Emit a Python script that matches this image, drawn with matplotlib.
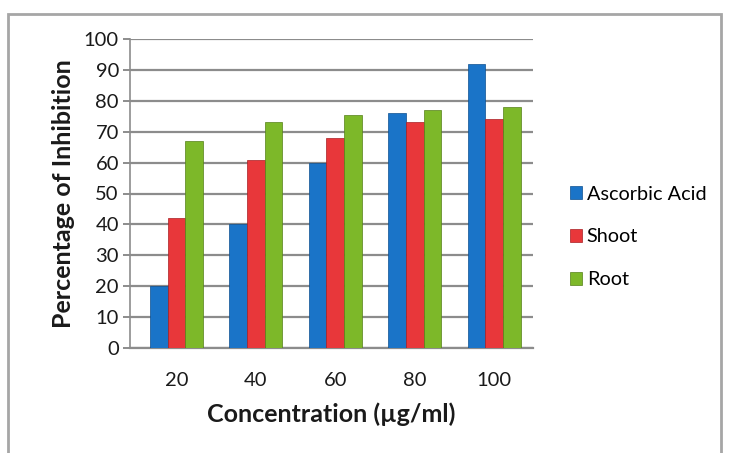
import numpy as np
import matplotlib
matplotlib.use("Agg")
import matplotlib.pyplot as plt
from matplotlib.patches import Rectangle

plt.rcParams['font.family'] = ['Lato', 'DejaVu Sans']

# Datos
concentrations = ["20", "40", "60", "80", "100"]
ascorbic = [20, 40, 60, 76, 92]
shoot = [42, 61, 68, 73, 74]
root = [67, 73, 75.5, 77, 78]

series = [("Ascorbic Acid", ascorbic, "#1a74c8", "#0d4f8f"),
          ("Shoot", shoot, "#e8373a", "#a81e22"),
          ("Root", root, "#7db829", "#558018")]

fig = plt.figure(figsize=(7.3, 4.53), dpi=100)
ax = fig.add_axes([130/730, 1 - 348/453, 403/730, 309/453])

# Marco gris alrededor del gráfico
fig.patches.append(Rectangle((8/730, -0.1), 713/730, 1.1 - 14/453,
                             transform=fig.transFigure, fill=False,
                             edgecolor="#a6a6a6", linewidth=2))

x = np.arange(len(concentrations))
w = 0.223
for i, (name, vals, col, edge) in enumerate(series):
    ax.bar(x + (i - 1) * w, vals, w, color=col, edgecolor=edge,
           linewidth=0.5, label=name, zorder=3)

ax.set_ylim(0, 100)
ax.set_yticks(range(0, 101, 10))
ax.set_xlim(-0.585, 4.49)
ax.set_xticks(x)
ax.set_xticklabels(concentrations)
ax.yaxis.grid(True, color="#8c8c8c", linewidth=1.6, zorder=0)
ax.set_axisbelow(True)

for s in ["top", "right"]:
    ax.spines[s].set_visible(False)
ax.spines["left"].set_color("#8c8c8c")
ax.spines["bottom"].set_color("#8c8c8c")
ax.spines["left"].set_linewidth(1.2)
ax.spines["bottom"].set_linewidth(1.6)
ax.tick_params(axis="y", length=5, width=1.4, labelsize=14.5, pad=3,
               colors="#8c8c8c", labelcolor="#1a1a1a")
ax.tick_params(axis="x", length=0, labelsize=14.5, pad=17, colors="#1a1a1a")

ax.set_xlabel("Concentration (µg/ml)", fontsize=18, fontweight="bold",
              labelpad=10, color="#1a1a1a")
ax.set_ylabel("Percentage of Inhibition", fontsize=18, fontweight="bold",
              labelpad=6, color="#1a1a1a")

fig.legend(loc="center left", bbox_to_anchor=(552/730, 1 - 237/453),
           frameon=False, fontsize=14.3, labelspacing=1.3,
           handlelength=0.6, handleheight=0.6, handletextpad=0.25)

fig.savefig("out.png", dpi=100)
